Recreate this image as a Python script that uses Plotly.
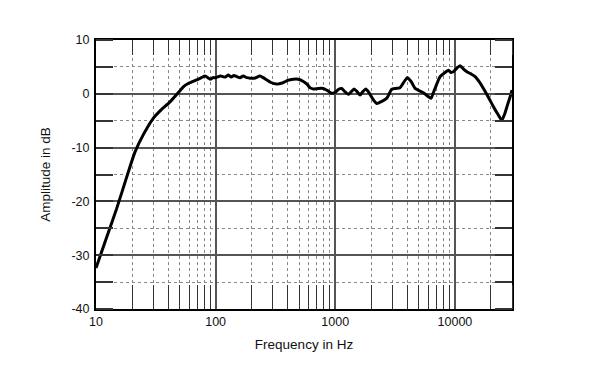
import plotly.graph_objects as go

freq_hz = [10, 12.3, 14.9, 18.1, 21.2, 25, 30, 35, 41.6, 47, 53.7, 60, 69.5, 76, 81.5, 86, 90, 95,
           100, 110, 120, 128, 135, 142, 150, 160, 170, 182, 195, 210, 235, 250, 267, 290, 324, 360,
           400, 446, 490, 541, 580, 617, 656, 720, 795, 860, 933, 1000, 1060, 1132, 1200, 1288, 1360,
           1436, 1520, 1611, 1700, 1798, 1900, 2050, 2222, 2450, 2692, 2850, 2965, 3200, 3470, 3700,
           4006, 4300, 4645, 5000, 5455, 5900, 6310, 6600, 6823, 7200, 7510, 8100, 8830, 9200, 9710,
           10300, 11040, 11800, 12590, 13600, 14760, 16000, 17300, 19000, 20990, 23000, 24660, 26000,
           27480, 29000, 30000]
amplitude_db = [-32.4, -26.6, -21.3, -15.4, -10.8, -7.5, -4.6, -3.0, -1.5, -0.2, 1.3, 2.0, 2.6, 3.0,
                3.3, 3.0, 2.7, 3.0, 3.0, 3.3, 3.1, 3.5, 3.1, 3.4, 3.2, 3.0, 3.3, 3.0, 2.9, 2.9, 3.3,
                3.0, 2.6, 2.1, 1.8, 2.0, 2.5, 2.7, 2.7, 2.3, 1.8, 1.1, 0.9, 1.0, 1.0, 0.6, 0.1, 0.3,
                0.8, 1.0, 0.4, -0.1, 0.4, 0.9, 0.4, -0.2, 0.4, 0.9, 0.3, -0.9, -1.8, -1.4, -0.84, 0.2,
                0.84, 1.0, 1.13, 2.0, 3.0, 2.3, 1.0, 0.6, 0.2, -0.4, -0.84, 0.2, 1.0, 2.3, 3.2, 3.8,
                4.4, 4.0, 4.1, 4.7, 5.2, 4.6, 4.1, 3.7, 3.2, 2.2, 1.0, -0.6, -2.4, -3.9, -4.9, -3.8,
                -2.1, -0.5, 0.7]

x_major_ticks = [10, 100, 1000, 10000]
x_major_labels = ["10", "100", "1000", "10000"]
x_minor_ticks = [m * d for d in (10, 100, 1000, 10000) for m in range(2, 10) if m * d <= 30000]
y_ticks = [10, 0, -10, -20, -30, -40]
y_labels = ["10", "0", "-10", "-20", "-30", "-40"]

x_range_log = [1, 4.4771]
y_range = [-40, 10]

TICK_FONT = dict(family="Liberation Sans, Arial, sans-serif", size=12.5, color="#111")
TITLE_FONT = dict(family="Liberation Sans, Arial, sans-serif", size=13.5, color="#111")

fig = go.Figure()
fig.add_trace(go.Scatter(x=freq_hz, y=amplitude_db, mode="lines",
                         line=dict(color="black", width=3, shape="spline", smoothing=0.6),
                         showlegend=False, hoverinfo="skip"))
# invisible trace to anchor the mirrored axes (top/right ticks)
fig.add_trace(go.Scatter(x=[freq_hz[0]], y=[amplitude_db[0]], xaxis="x2", yaxis="y2",
                         mode="markers", marker=dict(opacity=0), showlegend=False, hoverinfo="skip"))

fig.update_layout(
    width=592, height=365,
    margin=dict(l=88, r=88, t=32, b=64),
    paper_bgcolor="white", plot_bgcolor="white",
    font=TICK_FONT,
    xaxis=dict(
        type="log", range=x_range_log,
        tickmode="array", tickvals=x_major_ticks, ticktext=x_major_labels,
        ticks="", showgrid=True, gridcolor="#555", gridwidth=1.6,
        showline=True, linecolor="black", linewidth=2, mirror=True,
        zeroline=False, tickfont=TICK_FONT,
        minor=dict(tickmode="array", tickvals=x_minor_ticks, ticks="inside", ticklen=24,
                   tickcolor="#333", tickwidth=1.2, showgrid=True, gridcolor="#888",
                   griddash="dot", gridwidth=1),
        title=dict(text="Frequency in Hz", font=TITLE_FONT, standoff=12),
    ),
    xaxis2=dict(
        type="log", range=x_range_log, overlaying="x", side="top", anchor="y",
        tickmode="array", tickvals=x_major_ticks, showticklabels=False, ticks="",
        showgrid=False, zeroline=False, showline=False,
        minor=dict(tickmode="array", tickvals=x_minor_ticks, ticks="inside", ticklen=15,
                   tickcolor="#333", tickwidth=1.2, showgrid=False),
    ),
    yaxis=dict(
        range=y_range, tickmode="array", tickvals=y_ticks, ticktext=y_labels,
        ticks="", showgrid=True, gridcolor="#555", gridwidth=1.6,
        showline=True, linecolor="black", linewidth=2, mirror=True,
        zeroline=False, tickfont=TICK_FONT, ticklabelstandoff=2,
        minor=dict(dtick=5, ticks="inside", ticklen=17, tickcolor="#333", tickwidth=1.5,
                   showgrid=True, gridcolor="#888", griddash="dot", gridwidth=1),
        title=dict(text="Amplitude in dB", font=TITLE_FONT, standoff=18),
    ),
    yaxis2=dict(
        range=y_range, overlaying="y", side="right", anchor="x",
        tickmode="array", tickvals=y_ticks, showticklabels=False, ticks="",
        showgrid=False, zeroline=False, showline=False,
        minor=dict(dtick=5, ticks="inside", ticklen=17, tickcolor="#333", tickwidth=1.5,
                   showgrid=False),
    ),
)

fig.write_html("out.html")
